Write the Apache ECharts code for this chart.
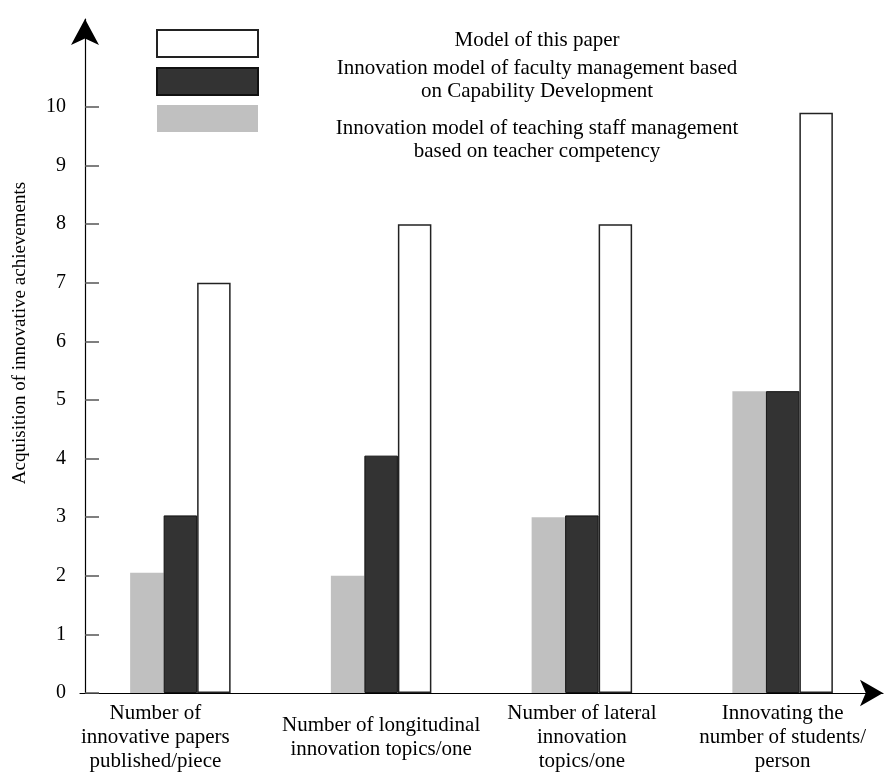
<!DOCTYPE html>
<html>
<head>
<meta charset="utf-8">
<script src="https://cdn.jsdelivr.net/npm/echarts@6/dist/echarts.min.js"></script>
<style>
  html, body { margin: 0; padding: 0; background: #fff; }
  #chart { width: 895px; height: 772px; }
</style>
</head>
<body>
<div id="chart"></div>
<script>
// categories on the x axis
var categories = [
  'Number of\ninnovative papers\npublished/piece',
  'Number of longitudinal\ninnovation topics/one',
  'Number of lateral\ninnovation\ntopics/one',
  'Innovating the\nnumber of students/\nperson'
];
var seriesNames = [
  'Innovation model of teaching staff management based on teacher competency',
  'Innovation model of faculty management based on Capability Development',
  'Model of this paper'
];
var teacherCompetency = [2.05, 2.0, 3.0, 5.15];
var capabilityDev = [3.03, 4.05, 3.03, 5.15];
var thisPaper = [7.0, 8.0, 8.0, 9.9];
var yTicks = [0, 1, 2, 3, 4, 5, 6, 7, 8, 9, 10];

var serif = 'Liberation Serif';
var myChart = echarts.init(document.getElementById('chart'));

var option = {
  backgroundColor: '#ffffff',
  animation: false,
  grid: { left: 80, right: 12, top: 19, bottom: 79, containLabel: false, outerBoundsMode: 'none' },
  legend: {
    orient: 'vertical',
    left: 151,
    top: 24,
    itemWidth: 101,
    itemHeight: 27,
    itemGap: 9,
    icon: 'rect',
    data: [seriesNames[2], seriesNames[1], seriesNames[0]],
    formatter: function () { return ''; },
    selectedMode: false
  },
  graphic: [
    {
      type: 'text',
      style: { text: 'Model of this paper', x: 537, y: 40, align: 'center', verticalAlign: 'middle',
        font: '21px "Liberation Serif"', fill: '#000' }
    },
    {
      type: 'text',
      style: { text: 'Innovation model of faculty management based\non Capability Development', x: 537, y: 80,
        align: 'center', verticalAlign: 'middle', lineHeight: 23, font: '21px "Liberation Serif"', fill: '#000' }
    },
    {
      type: 'text',
      style: { text: 'Innovation model of teaching staff management\nbased on teacher competency', x: 537, y: 140,
        align: 'center', verticalAlign: 'middle', lineHeight: 23, font: '21px "Liberation Serif"', fill: '#000' }
    },
    {
      type: 'text',
      rotation: Math.PI / 2,
      x: 20, y: 333,
      style: { text: 'Acquisition of innovative achievements', align: 'center', verticalAlign: 'middle',
        font: '19px "Liberation Serif"', fill: '#000' }
    }
  ],
  xAxis: {
    type: 'category',
    data: categories,
    boundaryGap: true,
    axisLine: {
      show: true,
      symbol: ['none', 'arrow'],
      symbolSize: [20, 23],
      lineStyle: { color: '#000', width: 1.2 }
    },
    axisTick: { show: false },
    axisLabel: {
      interval: 0,
      margin: 44,
      verticalAlign: 'middle',
      lineHeight: 24,
      fontFamily: serif,
      fontSize: 21,
      color: '#000',
      // first label sits a bit left of its group in the original
      formatter: function (value, idx) {
        return idx === 0 ? '{l|' + value + '}' : value;
      },
      rich: {
        l: { fontFamily: serif, fontSize: 21, lineHeight: 24, color: '#000', padding: [0, 50, 0, 0] }
      }
    },
    splitLine: { show: false }
  },
  yAxis: {
    type: 'value',
    min: 0,
    max: 11.5,
    offset: -5,
    axisLine: {
      show: true,
      symbol: ['none', 'arrow'],
      symbolSize: [21, 26],
      lineStyle: { color: '#000', width: 1.2 }
    },
    axisTick: {
      show: true,
      inside: true,
      length: 14,
      customValues: yTicks,
      lineStyle: { color: '#555', width: 1.5 }
    },
    axisLabel: {
      customValues: yTicks,
      margin: 19,
      fontFamily: serif,
      fontSize: 20,
      color: '#000'
    },
    splitLine: { show: false }
  },
  series: [
    {
      name: seriesNames[0],
      type: 'bar',
      barWidth: 33.5,
      barGap: '0%',
      itemStyle: { color: '#c0c0c0' },
      data: teacherCompetency
    },
    {
      name: seriesNames[1],
      type: 'bar',
      barWidth: 33.5,
      barGap: '0%',
      itemStyle: { color: '#333333', borderColor: '#111', borderWidth: 1 },
      data: capabilityDev
    },
    {
      name: seriesNames[2],
      type: 'bar',
      barWidth: 33.5,
      barGap: '0%',
      itemStyle: { color: '#ffffff', borderColor: '#222', borderWidth: 1.5 },
      data: thisPaper
    }
  ]
};
myChart.setOption(option);
</script>
</body>
</html>
